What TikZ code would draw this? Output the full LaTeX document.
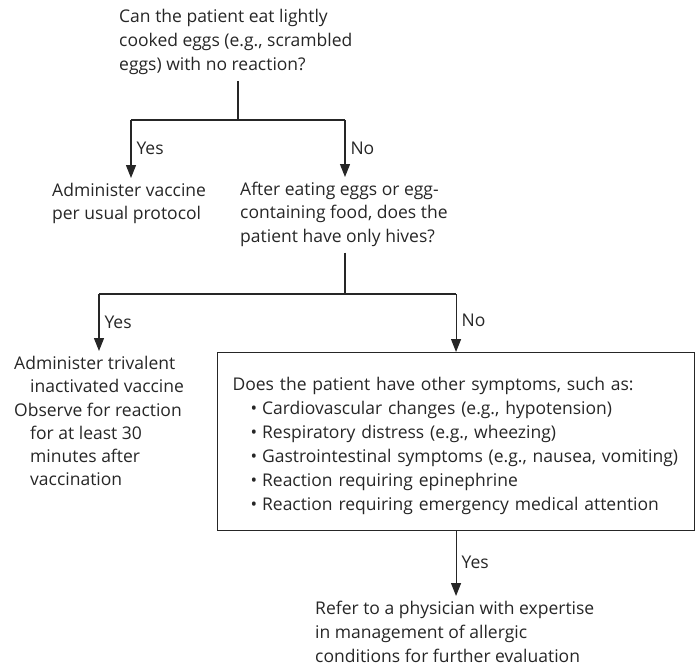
\documentclass[tikz,border=0pt]{standalone}
\usepackage{fontspec}
\setmainfont{Open Sans}
\usetikzlibrary{arrows.meta,positioning}
\newcommand{\flowfont}{\fontsize{17.5}{24}\selectfont}
\newcommand{\flowfonttight}{\fontsize{17.5}{23.3}\selectfont}
\newcommand{\bul}{\hspace*{18pt}\textbullet\hspace{5pt}}
\tikzset{
  qtext/.style={anchor=north west, align=left, inner sep=0pt, font=\flowfont, text=black!85},
  qbox/.style={draw=black!85, line width=1.1pt, anchor=north west, align=left, text width=447pt,
    inner xsep=15pt, inner ysep=0pt, minimum height=178pt, font=\flowfont, text=black!85},
  link/.style={line width=1.1pt, draw=black!85},
  flow/.style={link, -{Triangle[length=13pt,width=10pt]}},
  flowt/.style={flow, shorten >=5pt},
  lbl/.style={right, xshift=5pt, inner sep=0pt, font=\flowfont, text=black!85, pos=0.45},
}

\begin{document}
\begin{tikzpicture}[x=1pt,y=-1pt]
  \useasboundingbox (0,0) rectangle (696,666);
  \node[qtext] (q1)    at (119,9)   {Can the patient eat lightly\\cooked eggs (e.g., scrambled\\eggs) with no reaction?};
  \node[qtext, font=\flowfonttight] (vacc) at (52,183)  {Administer vaccine\\per usual protocol};
  \node[qtext, font=\flowfonttight] (q2)   at (240,182) {After eating eggs or egg-\\containing food, does the\\patient have only hives?};
  \node[qtext, font=\flowfonttight] (tiv)  at (14,356)  {Administer trivalent\\\hspace*{16pt}inactivated vaccine\\Observe for reaction\\\hspace*{16pt}for at least 30\\\hspace*{16pt}minutes after\\\hspace*{16pt}vaccination};
  \node[qbox]  (q3)    at (217,352) {\rule{0pt}{22pt}Does the patient have other symptoms, such as:\\
    \bul Cardiovascular changes (e.g., hypotension)\\
    \bul Respiratory distress (e.g., wheezing)\\
    \bul Gastrointestinal symptoms (e.g., nausea, vomiting)\\
    \bul Reaction requiring epinephrine\\
    \bul Reaction requiring emergency medical attention};
  \node[qtext] (refer) at (315,601) {Refer to a physician with expertise\\in management of allergic\\conditions for further evaluation};

  \coordinate (j1) at (238,120);
  \coordinate (y1) at (131,120);
  \coordinate (n1) at (345,120);
  \coordinate (j2) at (345,294);
  \coordinate (y2) at (99,294);

  \draw[link, shorten <=6pt] (q1.south -| j1) -- (j1);
  \draw[link] (y1) -- (n1);
  \draw[flowt] (y1) -- node[lbl] {Yes} (y1 |- vacc.north);
  \draw[flowt] (n1) -- node[lbl] {No} (n1 |- q2.north);
  \draw[link, shorten <=6pt] (q2.south -| j2) -- (j2);
  \draw[link] (y2) -- (q3.north |- j2);
  \draw[flowt] (y2) -- node[lbl] {Yes} (y2 |- tiv.north);
  \draw[flow] (q3.north |- j2) -- node[lbl] {No} (q3.north);
  \draw[flowt] (q3.south) -- node[lbl] {Yes} (q3.south |- refer.north);
\end{tikzpicture}
\end{document}
